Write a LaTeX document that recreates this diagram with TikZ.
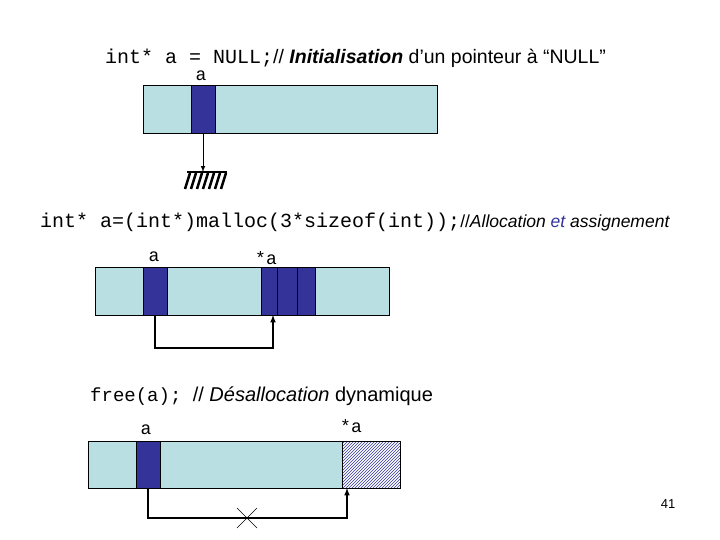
\documentclass[tikz,border=0pt]{standalone}
\usepackage{fontspec}
\setmainfont{Liberation Sans}
\newfontfamily\mono{Liberation Mono}
\usetikzlibrary{patterns}
\definecolor{light}{RGB}{186,223,226}
\definecolor{dark}{RGB}{51,51,153}
\begin{document}
\begin{tikzpicture}[x=1pt,y=-1pt,
  cell/.style={draw=black,fill=light},
  ptr/.style={draw=black,fill=dark},
  lbl/.style={inner sep=0pt,font=\mono\fontsize{18}{18}\selectfont},
  code/.style={inner sep=0pt,anchor=west},
  link/.style={draw,line width=1.5pt,-latex}]
\useasboundingbox (0,0) rectangle (720,540);
% line 1
\node[code] (t1) at (105,58) {{\mono\fontsize{20}{20}\selectfont int* a = NULL;}\fontsize{19.5}{19.5}\selectfont// \textbf{\textit{Initialisation}} d’un pointeur à “NULL”};
\node[lbl] (la1) at (201,76) {a};
\draw[cell] (143,85) rectangle (437,133);
\draw[ptr] (191,85) rectangle (215,133);
\coordinate (p1) at (203,133);
\coordinate (g1) at (203,172);
\draw[line width=1pt,-latex] (p1) -- (g1);
\draw[line width=2pt] (187,172) -- (227,172);
\foreach \i in {0,...,6} \draw[line width=2.5pt] (190+6*\i,173) -- (185+6*\i,189);
% line 2
\node[code] (t2) at (40,222) {{\mono\fontsize{20}{20}\selectfont int* a=(int*)malloc(3*sizeof(int));}\fontsize{17.5}{17.5}\selectfont//\textit{Allocation {\color{dark}et} assignement}};
\node[lbl] (la2) at (154,257) {a};
\node[lbl] (sa2) at (266,258) {*a};
\draw[cell] (95,267) rectangle (389,315);
\draw[ptr] (143,267) rectangle (167,315);
\draw[ptr] (261,267) rectangle (277,315);
\draw[ptr] (277,267) rectangle (297,315);
\draw[ptr] (297,267) rectangle (315,315);
\coordinate (p2) at (155,315);
\coordinate (q2) at (273,315);
\draw[line width=1.5pt,-latex] (p2) -- (155,348) -- (273,348) -- (q2);
% line 3
\node[code] (t3) at (90,396) {{\mono\fontsize{19}{19}\selectfont free(a); }\fontsize{20}{20}\selectfont // \textit{Désallocation} dynamique};
\node[lbl] (la3) at (146,430) {a};
\node[lbl] (sa3) at (351,426) {*a};
\draw[cell] (88,441) rectangle (400,488);
\draw[ptr] (136,441) rectangle (160,488);
\fill[white] (342,441) rectangle (400,488);
\fill[pattern=north east lines,pattern color=dark] (342,441) rectangle (400,488);
\draw (342,441) rectangle (400,488);
\coordinate (p3) at (148,488);
\coordinate (q3) at (347,488);
\draw[line width=1.5pt,-latex] (p3) -- (148,518) -- (347,518) -- (q3);
\draw (237,508) -- (257,528) (237,528) -- (257,508);
\node[inner sep=0pt,font=\fontsize{13}{13}\selectfont] (n) at (668,504) {41};
\end{tikzpicture}
\end{document}
